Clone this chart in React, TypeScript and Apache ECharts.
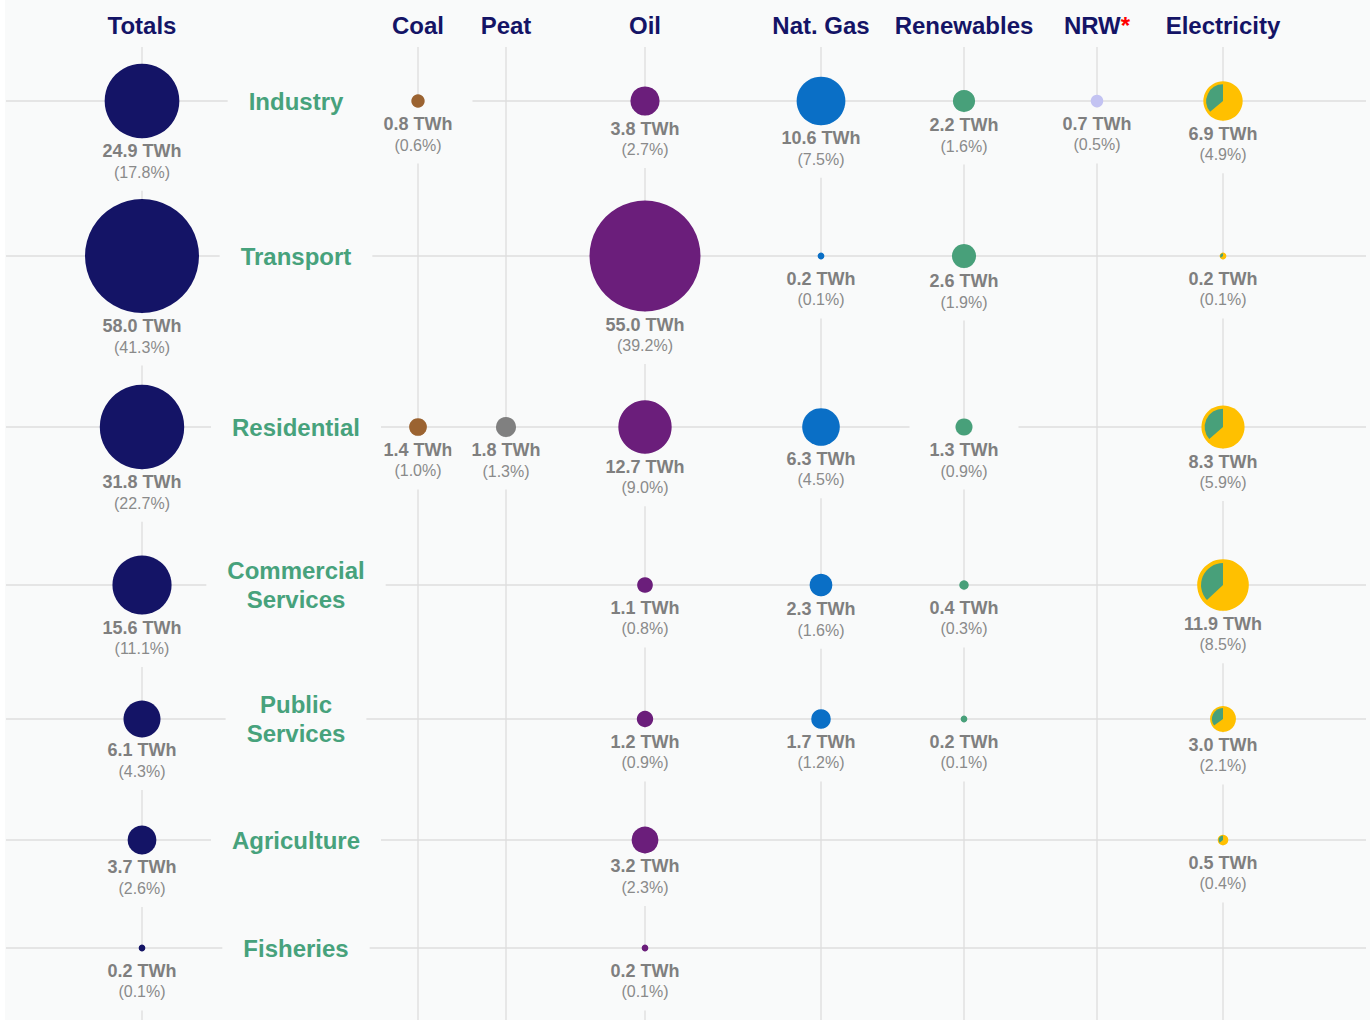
import React, { useEffect, useRef } from "react";
import * as echarts from "echarts";

// ---------------- DATA ----------------
const sectors = ["Industry", "Transport", "Residential", "Commercial\nServices", "Public\nServices", "Agriculture", "Fisheries"];
const fuelColumns = ["Coal", "Peat", "Oil", "Nat. Gas", "Renewables", "NRW", "Electricity"];
const headerLabels = ["Totals", "Coal", "Peat", "Oil", "Nat. Gas", "Renewables", "NRW", "Electricity"];

// TWh per sector, and share of total final consumption (%)
const totals = [24.9, 58.0, 31.8, 15.6, 6.1, 3.7, 0.2];
const totalsPct = [17.8, 41.3, 22.7, 11.1, 4.3, 2.6, 0.1];
const coal = [0.8, null, 1.4, null, null, null, null];
const coalPct = [0.6, null, 1.0, null, null, null, null];
const peat = [null, null, 1.8, null, null, null, null];
const peatPct = [null, null, 1.3, null, null, null, null];
const oil = [3.8, 55.0, 12.7, 1.1, 1.2, 3.2, 0.2];
const oilPct = [2.7, 39.2, 9.0, 0.8, 0.9, 2.3, 0.1];
const natGas = [10.6, 0.2, 6.3, 2.3, 1.7, null, null];
const natGasPct = [7.5, 0.1, 4.5, 1.6, 1.2, null, null];
const renewables = [2.2, 2.6, 1.3, 0.4, 0.2, null, null];
const renewablesPct = [1.6, 1.9, 0.9, 0.3, 0.1, null, null];
const nrw = [0.7, null, null, null, null, null, null];
const nrwPct = [0.5, null, null, null, null, null, null];
const electricity = [6.9, 0.2, 8.3, 11.9, 3.0, 0.5, null];
const electricityPct = [4.9, 0.1, 5.9, 8.5, 2.1, 0.4, null];
// renewable share of electricity (green wedge)
const elecRenewShare = [0.36, 0.36, 0.365, 0.37, 0.35, 0.36, null];

const fuelValues = [coal, peat, oil, natGas, renewables, nrw, electricity];
const fuelPcts = [coalPct, peatPct, oilPct, natGasPct, renewablesPct, nrwPct, electricityPct];

// ---------------- LAYOUT / STYLE ----------------
const COL_X: Record<string, number> = {
  Totals: 142, Sector: 296, Coal: 418, Peat: 506, Oil: 645, "Nat. Gas": 821, Renewables: 964, NRW: 1097, Electricity: 1223,
};
const ROW_Y = [101, 256, 427, 585, 719, 840, 948];
const HEADER_Y = 25;
const VLINE_TOP = 47;
const VLINE_BOTTOM = 1020;
const HLINE_LEFT = 6;
const HLINE_RIGHT = 1366;
const MAX_RADIUS = 57;
const TALL_LABELS = [["Industry", "Coal"], ["Residential", "Renewables"]];

const BG = "#f9fafa";
const GRID = "#dedede";
const NAVY = "#141466";
const SECTOR_GREEN = "#47a27c";
const VALUE_GREY = "#7f7f7f";
const PCT_GREY = "#8a8a8a";
const FONT = "Liberation Sans, Arial, Helvetica, sans-serif";
const COLORS: Record<string, string> = {
  Totals: NAVY, Coal: "#9b6331", Peat: "#808080", Oil: "#6b1e7b", "Nat. Gas": "#0a6fc6",
  Renewables: "#48a07a", NRW: "#c3c3f2", Electricity: "#ffc000",
};
const ELEC_GREEN = "#48a07a";

type Cell = { col: string; row: number; value: number; pct: number; share: number | null; tall: boolean };
const cells: Cell[] = [];
sectors.forEach((s, r) => {
  const isTall = (col: string) => TALL_LABELS.some(([a, b]) => a === s && b === col);
  cells.push({ col: "Totals", row: r, value: totals[r], pct: totalsPct[r], share: null, tall: isTall("Totals") });
  fuelColumns.forEach((col, k) => {
    const v = fuelValues[k][r];
    if (v != null) {
      cells.push({
        col, row: r, value: v, pct: fuelPcts[k][r] as number,
        share: col === "Electricity" ? elecRenewShare[r] : null, tall: isTall(col),
      });
    }
  });
});

const maxValue = Math.max(...totals);
const radius = (v: number) => MAX_RADIUS * Math.sqrt(v / maxValue);

const richLabel = {
  v: { fontSize: 18, fontWeight: "bold", fill: VALUE_GREY, fontFamily: FONT, lineHeight: 21 },
  p: { fontSize: 16, fill: PCT_GREY, fontFamily: FONT, lineHeight: 21 },
};

const option: any = {
  animation: false,
  graphic: [
    { type: "rect", left: 5, top: 0, shape: { width: 1365, height: 1020 }, style: { fill: BG }, z: 0, silent: true },
  ],
  grid: { left: 0, right: 0, top: 0, bottom: 0 },
  xAxis: { type: "value", min: 0, max: 1370, show: false },
  yAxis: { type: "value", min: 0, max: 1020, inverse: true, show: false },
  series: [
    {
      type: "custom", name: "hlines", coordinateSystem: "cartesian2d", z: 1, silent: true,
      data: ROW_Y.map((y, i) => [HLINE_LEFT, y, i]),
      renderItem: (p: any, api: any) => {
        const y = ROW_Y[p.dataIndex];
        const a = api.coord([HLINE_LEFT, y]);
        const b = api.coord([HLINE_RIGHT, y]);
        return { type: "line", shape: { x1: a[0], y1: a[1], x2: b[0], y2: b[1] }, style: { stroke: GRID, lineWidth: 1.3 } };
      },
    },
    {
      type: "custom", name: "vlines", coordinateSystem: "cartesian2d", z: 1, silent: true,
      data: headerLabels.map((h, i) => [COL_X[h], VLINE_TOP, i]),
      renderItem: (p: any, api: any) => {
        const x = COL_X[headerLabels[p.dataIndex]];
        const a = api.coord([x, VLINE_TOP]);
        const b = api.coord([x, VLINE_BOTTOM]);
        return { type: "line", shape: { x1: a[0], y1: a[1], x2: b[0], y2: b[1] }, style: { stroke: GRID, lineWidth: 1.3 } };
      },
    },
    {
      type: "custom", name: "headers", coordinateSystem: "cartesian2d", z: 3, silent: true,
      data: headerLabels.map((h, i) => [COL_X[h], HEADER_Y, i]),
      renderItem: (p: any, api: any) => {
        const h = headerLabels[p.dataIndex];
        const [x, y] = api.coord([COL_X[h], HEADER_Y]);
        const text = h === "NRW" ? "{h|NRW}{s|*}" : `{h|${h}}`;
        return {
          type: "text", x, y,
          style: {
            text, align: "center", verticalAlign: "middle",
            rich: {
              h: { fontSize: 24, fontWeight: "bold", fill: NAVY, fontFamily: FONT },
              s: { fontSize: 24, fontWeight: "bold", fill: "#ff0000", fontFamily: FONT },
            },
          },
        };
      },
    },
    {
      type: "custom", name: "sectors", coordinateSystem: "cartesian2d", z: 2, silent: true,
      data: sectors.map((s, i) => [COL_X.Sector, ROW_Y[i], i]),
      renderItem: (p: any, api: any) => {
        const [x, y] = api.coord([COL_X.Sector, ROW_Y[p.dataIndex]]);
        return {
          type: "text", x, y,
          style: {
            text: sectors[p.dataIndex], align: "center", verticalAlign: "middle",
            fontSize: 24, fontWeight: "bold", fontFamily: FONT, fill: SECTOR_GREEN, lineHeight: 29,
            backgroundColor: BG, padding: [2, 21, 2, 21],
          },
        };
      },
    },
    {
      type: "custom", name: "cells", coordinateSystem: "cartesian2d", z: 2, silent: true,
      data: cells.map((c, i) => [COL_X[c.col], ROW_Y[c.row], i]),
      renderItem: (p: any, api: any) => {
        const c = cells[p.dataIndex];
        const [cx, cy] = api.coord([COL_X[c.col], ROW_Y[c.row]]);
        const r = radius(c.value);
        const off = Math.max(r + 13, 23);
        const textTop = cy + off - 10.5;
        const boxTop = c.tall ? cy - 1 : cy + r + 0.5;
        const padTop = Math.max(0, textTop - boxTop);
        const children: any[] = [
          {
            type: "text", x: cx, y: boxTop, z2: 1,
            style: {
              text: `{v|${c.value.toFixed(1)} TWh}\n{p|(${c.pct.toFixed(1)}%)}`,
              align: "center", verticalAlign: "top",
              backgroundColor: BG, padding: [padTop, 20, 8, 20],
              rich: richLabel,
            },
          },
          { type: "circle", z2: 2, shape: { cx, cy, r }, style: { fill: COLORS[c.col] } },
        ];
        if (c.col === "Electricity" && c.share != null) {
          const a = c.share * Math.PI * 2;
          children.push({
            type: "sector", z2: 3,
            shape: { cx, cy, r0: 0, r: r * 0.85, startAngle: -Math.PI / 2 - a, endAngle: -Math.PI / 2, clockwise: true },
            style: { fill: ELEC_GREEN },
          });
        }
        return { type: "group", children };
      },
    },
  ],
};

export default function App() {
  const ref = useRef<HTMLDivElement>(null);
  useEffect(() => {
    const chart = echarts.init(ref.current!, null, { renderer: "svg" });
    chart.setOption(option);
    return () => chart.dispose();
  }, []);
  return (
    <div
      ref={ref}
      style={{ position: "absolute", left: 0, top: 0, width: 1370, height: 1020, background: "#ffffff" }}
    />
  );
}
